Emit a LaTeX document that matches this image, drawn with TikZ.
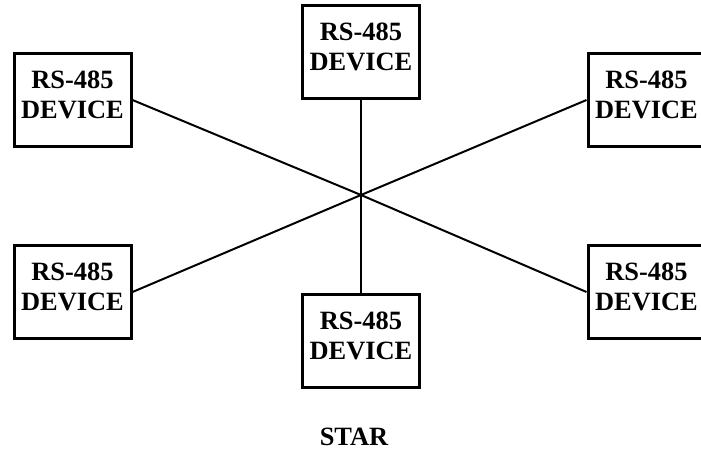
\documentclass[tikz,border=0pt]{standalone}
\usepackage{fontspec}
\setmainfont{Liberation Serif}
\usetikzlibrary{positioning}

\begin{document}
\begin{tikzpicture}[x=0.5pt, y=-0.5pt]

    \tikzstyle{device}=[draw, rectangle, line width=1.5pt, minimum width=58.5pt, minimum height=46.5pt, align=center, text depth=5pt, font=\fontsize{13.2}{15}\selectfont\bfseries];
    \tikzstyle{wire}=[line width=1pt];

    \clip (0,0) rectangle (701,450);

    \begin{scope}
      \coordinate (hub) at (361,195);

      \node (devTop) at (361,51.5) [device]{RS-485\\DEVICE};
      \node (devTopLeft) at (72.5,100) [device]{RS-485\\DEVICE};
      \node (devTopRight) at (646.5,100) [device]{RS-485\\DEVICE};
      \node (devBottomLeft) at (72.5,292) [device]{RS-485\\DEVICE};
      \node (devBottom) at (361,340.5) [device]{RS-485\\DEVICE};
      \node (devBottomRight) at (646.5,292) [device]{RS-485\\DEVICE};

      \node (caption) at (354,445) [anchor=base, font=\fontsize{13.2}{15}\selectfont\bfseries]{STAR};

      \draw [wire] (devTop) -- (hub);
      \draw [wire] (devBottom) -- (hub);
      \draw [wire] (devTopLeft.east) -- (hub);
      \draw [wire] (devTopRight.west) -- (hub);
      \draw [wire] (devBottomLeft.east) -- (hub);
      \draw [wire] (devBottomRight.west) -- (hub);

    \end{scope}
\end{tikzpicture}
\end{document}
